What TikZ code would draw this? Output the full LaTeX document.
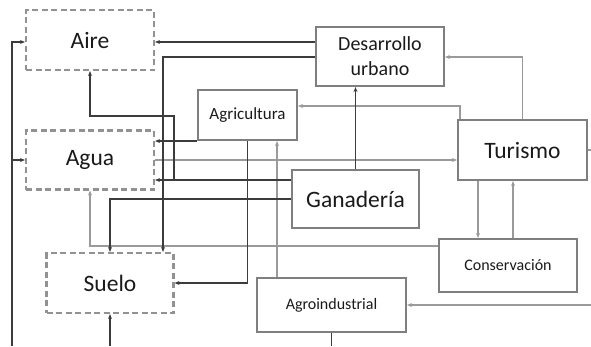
\documentclass[tikz,border=0pt]{standalone}
\usepackage{fontspec}
\setmainfont{Carlito}
\usetikzlibrary{arrows.meta}
\definecolor{dkc}{HTML}{3C3C3C}
\definecolor{ltc}{HTML}{9A9A9A}
\definecolor{bxc}{HTML}{7F7F7F}
\definecolor{txc}{HTML}{1A1A1A}
\begin{document}
\begin{tikzpicture}[x=1pt,y=-1pt,
  box/.style={draw=bxc,line width=2.1pt,fill=white,text=txc,inner sep=0pt,align=center},
  dbox/.style={box,draw=bxc!85,dash pattern=on 6pt off 3.5pt},
  bigtxt/.style={font=\fontsize{23.5}{28}\selectfont},
  midtxt/.style={font=\fontsize{20}{25}\selectfont},
  smalltxt/.style={font=\fontsize{17}{20}\selectfont},
  tinytxt/.style={font=\fontsize{16}{19}\selectfont},
  darkline/.style={draw=dkc,line width=1.9pt,-{Stealth[length=5pt,width=4pt]}},
  lightline/.style={draw=ltc,line width=1.4pt,-{Stealth[length=5pt,width=4pt]}},
]
\fill[white] (0,0) rectangle (591,346);
\useasboundingbox (0,0) rectangle (591,346);

% nodes
\node[dbox,bigtxt,minimum width=128pt,minimum height=60pt] (aire) at (90,40) {Aire};
\node[dbox,bigtxt,minimum width=128pt,minimum height=59pt] (agua) at (90,160) {Agua};
\node[dbox,bigtxt,minimum width=127pt,minimum height=60pt] (suelo) at (110,283) {Suelo};
\node[box,midtxt,minimum width=128pt,minimum height=59pt] (desarrollo) at (380,56.5) {Desarrollo\\urbano};
\node[box,smalltxt,minimum width=99pt,minimum height=50pt] (agricultura) at (247.5,115) {Agricultura};
\node[box,bigtxt,minimum width=129pt,minimum height=60pt] (turismo) at (522.5,150) {Turismo};
\node[box,bigtxt,minimum width=127pt,minimum height=58pt] (ganaderia) at (355.5,199) {Ganadería};
\node[box,tinytxt,minimum width=138pt,minimum height=53pt] (conservacion) at (508,265.5) {Conservación};
\node[box,tinytxt,minimum width=149pt,minimum height=54pt] (agroindustrial) at (331.5,305) {Agroindustrial};

% reference levels
\coordinate (L42) at (0,42);
\coordinate (L57) at (0,57);
\coordinate (L106) at (0,106);
\coordinate (L116) at (0,116);
\coordinate (L160) at (0,160);
\coordinate (L180) at (0,180);
\coordinate (L199) at (0,199);
\coordinate (L246) at (0,246);
\coordinate (Bot) at (0,346);
\coordinate (X12) at (12,0);
\coordinate (X163) at (163,0);
\coordinate (X174) at (174,0);
\coordinate (X277) at (277,0);
\coordinate (X460) at (460,0);
\coordinate (X478) at (478,0);
\coordinate (X513) at (513,0);
\coordinate (R) at (591,0);

% light connectors
\draw[lightline] (agua.east |- L160) -- (turismo.west |- L160);
\draw[lightline] (turismo.north) |- (desarrollo.east |- L57);
\draw[lightline] (X460 |- turismo.north) |- (agricultura.east |- L106);
\draw[lightline] (X478 |- turismo.south) -- (X478 |- conservacion.north);
\draw[lightline] (X513 |- conservacion.north) -- (X513 |- turismo.south);
\draw[lightline] (conservacion.west |- L246) -| (agua.south);
\draw[lightline] (X277 |- agroindustrial.north) -- (X277 |- agricultura.south);
\draw[lightline] (R |- agroindustrial.east) -- (agroindustrial.east);
\draw[lightline,-] (turismo.east) -- (R |- turismo.east);

% dark connectors
\draw[darkline] (desarrollo.west |- L42) -- (aire.east |- L42);
\draw[darkline] (desarrollo.west |- L57) -| (X163 |- suelo.north);
\draw[darkline] (ganaderia.west |- L180) -- (X174 |- L180) |- (aire.south |- L116) -- (aire.south);
\draw[darkline] (ganaderia.west |- L180) -- (agua.east |- L180);
\draw[darkline] (ganaderia.west |- L199) -| (suelo.north);
\draw[darkline] (ganaderia.north) -- (ganaderia.north |- desarrollo.south);
\draw[darkline] (agricultura.south west) -- (agua.east |- agricultura.south west);
\draw[darkline] (agricultura.south) |- (suelo.east);
\draw[darkline] (X12 |- Bot) |- (aire.west |- L42);
\draw[darkline] (X12 |- agua.west) -- (agua.west);
\draw[darkline] (suelo.south |- Bot) -- (suelo.south);
\draw[draw=dkc,line width=1.9pt] (agroindustrial.south) -- (agroindustrial.south |- Bot);
\end{tikzpicture}
\end{document}
